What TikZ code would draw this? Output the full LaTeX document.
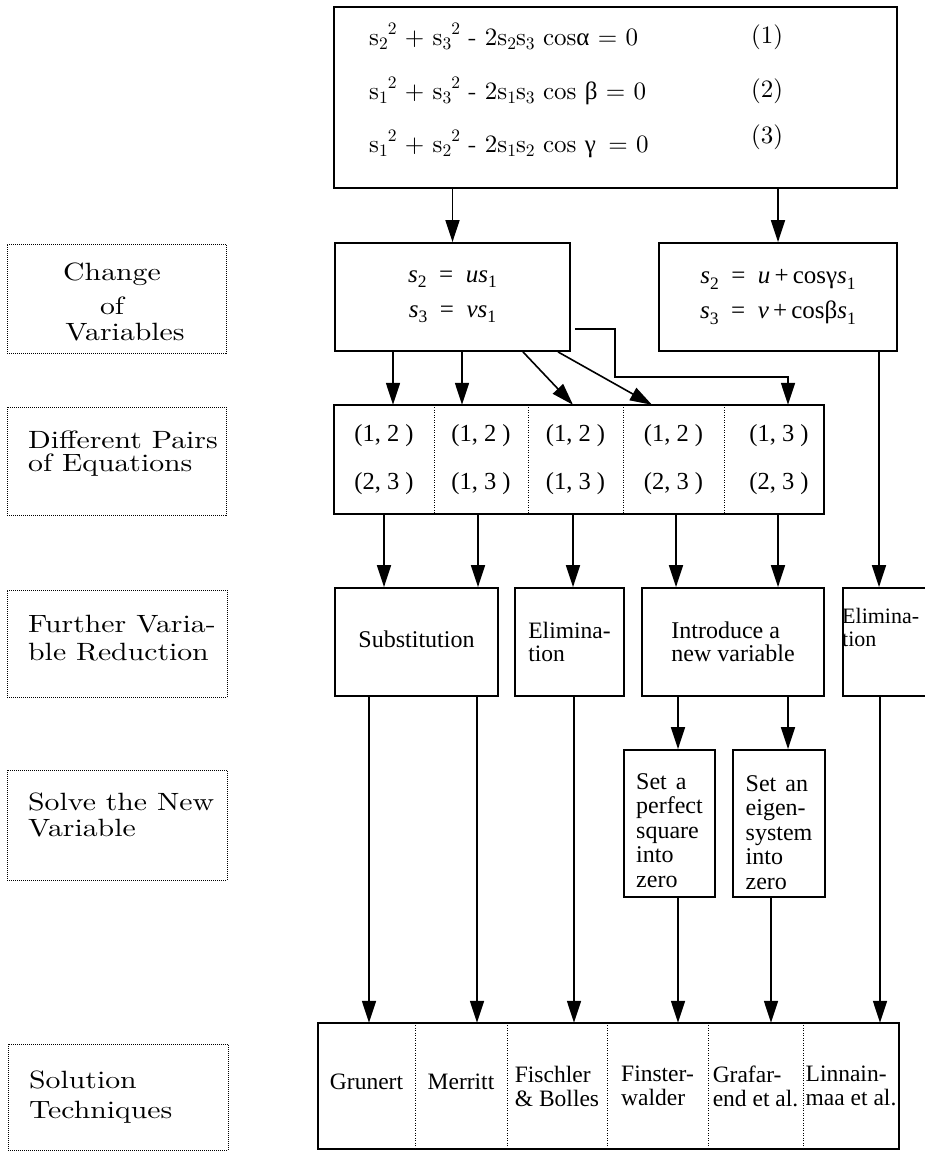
\documentclass[tikz,border=0pt]{standalone}
\usepackage{fontspec}
\usepackage{graphicx}
\newfontfamily\tms{Liberation Serif}
\newfontfamily\lmten{lmroman10-regular}[Extension=.otf]
\usetikzlibrary{arrows.meta}
\newcommand\subx[1]{\raisebox{-0.45ex}{\fontsize{17.5}{17.5}\selectfont #1}}
\newcommand\supx[1]{\raisebox{1.0ex}{\fontsize{17.5}{17.5}\selectfont #1}}
\newcommand\strx[1]{\scalebox{1.19}[1]{#1}}
\begin{document}
\begin{tikzpicture}[x=1pt,y=-1pt,
  box/.style={draw,line width=1.8pt,inner sep=0pt},
  lab/.style={draw,line width=1pt,dash pattern=on 1pt off 1pt,inner sep=0pt},
  lt/.style={font=\lmten\fontsize{25}{25}\selectfont,inner sep=0pt},
  eq/.style={font=\lmten\fontsize{25}{25}\selectfont,inner sep=0pt,anchor=base west},
  tt/.style={font=\tms\fontsize{24}{23.5}\selectfont},
  cell/.style={inner sep=0pt,minimum height=109pt,align=center,font=\tms\fontsize{24.5}{48}\selectfont},
  bcell/.style={inner sep=0pt,minimum height=126pt,align=left,font=\tms\fontsize{23.5}{24}\selectfont},
  arr/.style={-{Triangle[length=22pt,width=14pt]},line width=1.6pt},
  ln/.style={line width=1.8pt},
  div/.style={line width=1pt,dash pattern=on 1pt off 1.5pt}]
\useasboundingbox (0,0) rectangle (925,1152);
\clip (0,0) rectangle (925,1152);

% ---------- top box with the three equations
\node[box,minimum width=563pt,minimum height=181pt] (top) at (615.5,97.5) {};
\node[eq] (e1) at (369,45) {s\subx{2}\supx{2} + s\subx{3}\supx{2} - 2s\subx{2}s\subx{3} cos{\tms α} = 0};
\node[eq] (e2) at (369,99) {s\subx{1}\supx{2} + s\subx{3}\supx{2} - 2s\subx{1}s\subx{3} cos {\tms β} = 0};
\node[eq] (e3) at (369,152) {s\subx{1}\supx{2} + s\subx{2}\supx{2} - 2s\subx{1}s\subx{2} cos {\tms γ}\enspace = 0};
\node[eq] (n1) at (751,43) {(1)};
\node[eq] (n2) at (751,97) {(2)};
\node[eq] (n3) at (751,143) {(3)};

% ---------- change of variables
\node[box,minimum width=235pt,minimum height=108pt,align=center,font=\tms\fontsize{25}{35}\selectfont] (cl) at (452.5,297)
  {\textit{s}\subx{2}\enspace=\enspace\textit{us}\subx{1}\\\textit{s}\subx{3}\enspace=\enspace\textit{vs}\subx{1}};
\node[box,minimum width=238pt,minimum height=108pt,align=center,font=\tms\fontsize{25}{35}\selectfont] (cr) at (778,297)
  {\textit{s}\subx{2}\enspace=\enspace\textit{u}\,+\,cosγ\textit{s}\subx{1}\\\textit{s}\subx{3}\enspace=\enspace\textit{v}\,+\,cosβ\textit{s}\subx{1}};

% ---------- pairs of equations
\node[cell,minimum width=100pt] (p1) at (384,459.5) {(1, 2 )\\(2, 3 )};
\node[cell,minimum width=94pt] (p2) at (481,459.5) {(1, 2 )\\(1, 3 )};
\node[cell,minimum width=95pt] (p3) at (575.5,459.5) {(1, 2 )\\(1, 3 )};
\node[cell,minimum width=101pt] (p4) at (673.5,459.5) {(1, 2 )\\(2, 3 )};
\node[cell,minimum width=100pt] (p5) at (774,459.5) {\hspace{10pt}(1, 3 )\\\hspace{10pt}(2, 3 )};
\draw[ln] (p1.north west) rectangle (p5.south east);
\foreach \c in {p1,p2,p3,p4} \draw[div] (\c.north east) -- (\c.south east);

% ---------- further variable reduction
\node[box,tt,minimum width=163pt,minimum height=108pt] (sub) at (416.5,642) {\rule[-6pt]{0pt}{0pt}Substitution};
\node[box,tt,align=left,minimum width=109pt,minimum height=108pt,font=\tms\fontsize{23.5}{23.5}\selectfont] (elim) at (569.5,642) {Elimina-\\tion};
\node[box,tt,align=left,minimum width=182pt,minimum height=108pt] (intro) at (733,642) {Introduce a\\new variable};
\node[box,minimum width=150pt,minimum height=108pt] (re) at (918,642) {};
\node[align=left,anchor=north west,inner sep=0pt,font=\tms\fontsize{22}{23}\selectfont] (ret) at (842,608) {Elimina-\\tion};

% ---------- solve the new variable
\node[box,align=left,minimum width=91pt,minimum height=147pt,font=\tms\fontsize{24}{24.5}\selectfont] (sv1) at (669.5,823.5)
  {\rule{0pt}{30pt}Set\hspace{9pt}a\\perfect\\square\\into\\zero};
\node[box,align=left,minimum width=92pt,minimum height=147pt,font=\tms\fontsize{24}{24.5}\selectfont] (sv2) at (779,823.5)
  {\rule{0pt}{34pt}Set\hspace{9pt}an\\eigen-\\system\\into\\zero};

% ---------- solution techniques
\node[bcell,minimum width=97pt] (b1) at (366.5,1086) {\rule[-8pt]{0pt}{0pt}Grunert};
\node[bcell,minimum width=92pt] (b2) at (461,1086) {\rule[-8pt]{0pt}{0pt}Merritt};
\node[bcell,minimum width=100pt] (b3) at (557,1086) {Fischler\\\& Bolles};
\node[bcell,minimum width=101pt] (b4) at (657.5,1086) {Finster-\\walder};
\node[bcell,minimum width=95pt] (b5) at (755.5,1086) {Grafar-\\end et al.};
\node[bcell,minimum width=96pt] (b6) at (851,1086) {Linnain-\\maa et al.};
\draw[ln] (b1.north west) rectangle (b6.south east);
\foreach \c in {b1,b2,b3,b4,b5} \draw[div] (\c.north east) -- (\c.south east);

% ---------- left labels
\node[lab,minimum width=219pt,minimum height=109pt] (L1) at (116.5,298.5) {};
\node[lt,anchor=base] (L1a) at (112,280) {\strx{Change}};
\node[lt,anchor=base] (L1b) at (112,314) {\strx{of}};
\node[lt,anchor=base] (L1c) at (125,340) {\strx{Variables}};
\node[lab,minimum width=219pt,minimum height=108pt] (L2) at (116.5,461) {};
\node[lt,anchor=base west] (L2a) at (28,448) {\strx{Different Pairs}};
\node[lt,anchor=base west] (L2b) at (28,471) {\strx{of Equations}};
\node[lab,minimum width=220pt,minimum height=107pt] (L3) at (117,643.5) {};
\node[lt,anchor=base west] (L3a) at (28,632) {\strx{Further Varia-}};
\node[lt,anchor=base west] (L3b) at (28,660) {\strx{ble Reduction}};
\node[lab,minimum width=220pt,minimum height=110pt] (L4) at (117,825) {};
\node[lt,anchor=base west] (L4a) at (28,810) {\strx{Solve the New}};
\node[lt,anchor=base west] (L4b) at (28,836) {\strx{Variable}};
\node[lab,minimum width=220pt,minimum height=106pt] (L5) at (118,1097) {};
\node[lt,anchor=base west] (L5a) at (29,1088) {\strx{Solution}};
\node[lt,anchor=base west] (L5b) at (29,1118) {\strx{Techniques}};

% ---------- connectors
\draw[arr] (top.south -| cl.north) -- (cl.north);
\draw[arr] (top.south -| cr.north) -- (cr.north);

\draw[arr] ([xshift=-59.5pt]cl.south) -- ([xshift=9pt]p1.north);
\draw[arr] ([xshift=9.5pt]cl.south) -- ([xshift=-19pt]p2.north);
\draw[arr] ([xshift=70.5pt]cl.south) -- ([xshift=-2.5pt]p3.north);
\draw[arr] ([xshift=105.5pt]cl.south) -- ([xshift=-21.5pt]p4.north);
\draw[arr] ([xshift=4pt,yshift=-32pt]cl.east) -- ++(40,0) -- ++(0,48) -| ([xshift=14pt]p5.north);
\draw[arr] ([xshift=101pt]cr.south) -- ([xshift=-39pt]re.north);

\draw[arr] (p1.south) -- ([xshift=-32.5pt]sub.north);
\draw[arr] ([xshift=-3pt]p2.south) -- ([xshift=61.5pt]sub.north);
\draw[arr] ([xshift=-2.5pt]p3.south) -- ([xshift=3.5pt]elim.north);
\draw[arr] ([xshift=2.5pt]p4.south) -- ([xshift=-57pt]intro.north);
\draw[arr] ([xshift=4pt]p5.south) -- ([xshift=45pt]intro.north);

\draw[arr] ([xshift=-55pt]intro.south) -- ([xshift=8.5pt]sv1.north);
\draw[arr] ([xshift=55pt]intro.south) -- ([xshift=9pt]sv2.north);

\draw[arr] ([xshift=-47.5pt]sub.south) -- ([xshift=2.5pt]b1.north);
\draw[arr] ([xshift=60.5pt]sub.south) -- ([xshift=16pt]b2.north);
\draw[arr] ([xshift=4.5pt]elim.south) -- ([xshift=17pt]b3.north);
\draw[arr] ([xshift=8.5pt]sv1.south) -- ([xshift=20.5pt]b4.north);
\draw[arr] ([xshift=-8pt]sv2.south) -- ([xshift=15.5pt]b5.north);
\draw[arr] ([xshift=-38pt]re.south) -- ([xshift=29pt]b6.north);
\end{tikzpicture}
\end{document}
